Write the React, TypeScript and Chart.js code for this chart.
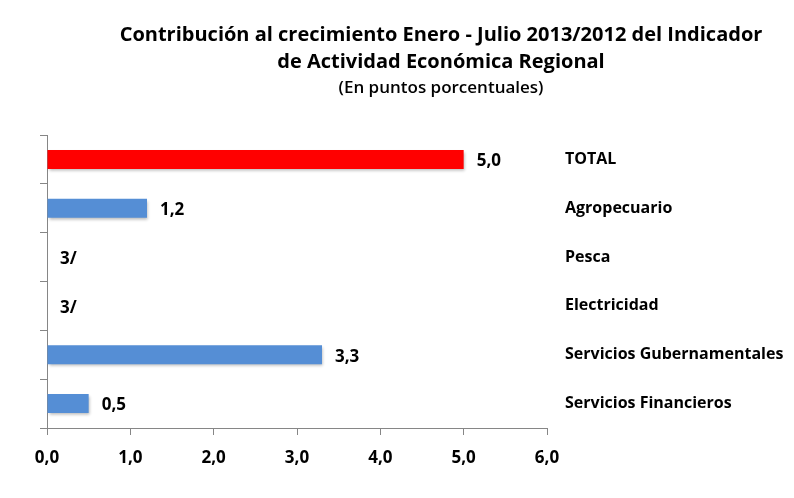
import React, { useEffect, useRef } from "react";
import { Chart, registerables } from "chart.js";

Chart.register(...registerables);

const categories = [
  "TOTAL",
  "Agropecuario",
  "Pesca",
  "Electricidad",
  "Servicios Gubernamentales",
  "Servicios Financieros",
];
const values: (number | null)[] = [5.0, 1.2, null, null, 3.3, 0.5];
const valueLabels = ["5,0", "1,2", "3/", "3/", "3,3", "0,5"];
const barColors = ["#FF0000", "#558ED5", "#558ED5", "#558ED5", "#558ED5", "#558ED5"];
const titleLines = [
  "Contribución al crecimiento Enero - Julio 2013/2012 del Indicador",
  "de Actividad Económica Regional",
];
const subtitle = "(En puntos porcentuales)";

const FONT = "'Open Sans', Lato, 'Liberation Sans', sans-serif";
const AXIS = "#868686";

const titlePlugin = {
  id: "customTitle",
  afterDraw(chart: any) {
    const ctx = chart.ctx;
    ctx.save();
    ctx.fillStyle = "#000";
    ctx.textAlign = "center";
    ctx.textBaseline = "middle";
    ctx.font = `bold 20px ${FONT}`;
    ctx.fillText(titleLines[0], 441, 35);
    ctx.fillText(titleLines[1], 441, 62);
    ctx.font = `600 17px ${FONT}`;
    ctx.fillText(subtitle, 441, 88);
    ctx.restore();
  },
};

const valueLabelPlugin = {
  id: "valueLabels",
  afterDatasetsDraw(chart: any) {
    const ctx = chart.ctx;
    const meta = chart.getDatasetMeta(0);
    const xs = chart.scales.x;
    ctx.save();
    ctx.fillStyle = "#000";
    ctx.font = `bold 17px ${FONT}`;
    ctx.textAlign = "left";
    ctx.textBaseline = "middle";
    meta.data.forEach((el: any, i: number) => {
      const v = values[i];
      const x = xs.getPixelForValue(v == null ? 0 : v) + 13;
      const y = chart.scales.y.getPixelForValue(i) + 2;
      ctx.fillText(valueLabels[i], x, y);
    });
    ctx.restore();
  },
};

const shadowPlugin = {
  id: "barShadow",
  beforeDatasetDraw(chart: any) {
    const ctx = chart.ctx;
    ctx.save();
    ctx.shadowColor = "rgba(0,0,0,0.28)";
    ctx.shadowBlur = 3;
    ctx.shadowOffsetX = 1;
    ctx.shadowOffsetY = 2;
  },
  afterDatasetDraw(chart: any) {
    chart.ctx.restore();
  },
};

export default function App() {
  const ref = useRef<HTMLCanvasElement | null>(null);
  useEffect(() => {
    if (!ref.current) return;
    const chart = new Chart(ref.current, {
      type: "bar",
      data: {
        labels: categories,
        datasets: [
          {
            data: values as any,
            backgroundColor: barColors,
            borderWidth: 0,
            barPercentage: 0.39,
            categoryPercentage: 1,
            yAxisID: "y",
          },
        ],
      },
      options: {
        indexAxis: "y",
        animation: false,
        responsive: false,
        maintainAspectRatio: false,
        layout: { padding: { top: 135, left: 0, right: 0, bottom: 0 } },
        plugins: {
          legend: { display: false },
          title: { display: false },
          tooltip: { enabled: false },
        },
        scales: {
          x: {
            type: "linear",
            min: 0,
            max: 6,
            ticks: {
              stepSize: 1,
              color: "#000",
              font: { family: FONT, size: 17, weight: "bold" },
              padding: 13,
              callback: (v: any) => Number(v).toFixed(1).replace(".", ","),
            },
            grid: {
              drawOnChartArea: false,
              drawTicks: true,
              tickLength: 7,
              color: AXIS,
            },
            border: { display: true, color: AXIS, width: 1 },
            afterFit: (s: any) => {
              s.height = 70;
            },
          },
          y: {
            type: "category",
            position: "left",
            offset: true,
            ticks: { display: false },
            grid: {
              offset: true,
              drawOnChartArea: false,
              drawTicks: true,
              tickLength: 7,
              color: AXIS,
            },
            border: { display: true, color: AXIS, width: 1 },
            afterFit: (s: any) => {
              s.width = 47;
            },
          },
          y2: {
            type: "category",
            position: "right",
            offset: true,
            labels: categories,
            ticks: {
              color: "#000",
              font: { family: FONT, size: 16, weight: "bold" },
              padding: 18,
            },
            grid: { display: false, drawTicks: false },
            border: { display: false },
            afterFit: (s: any) => {
              s.width = 247;
            },
          },
        },
      } as any,
      plugins: [shadowPlugin, valueLabelPlugin, titlePlugin],
    });
    return () => chart.destroy();
  }, []);
  return (
    <div style={{ position: "fixed", left: 0, top: 0, width: 794, height: 498, background: "#fff" }}>
      <canvas ref={ref} width={794} height={498} style={{ width: 794, height: 498, display: "block" }} />
    </div>
  );
}
